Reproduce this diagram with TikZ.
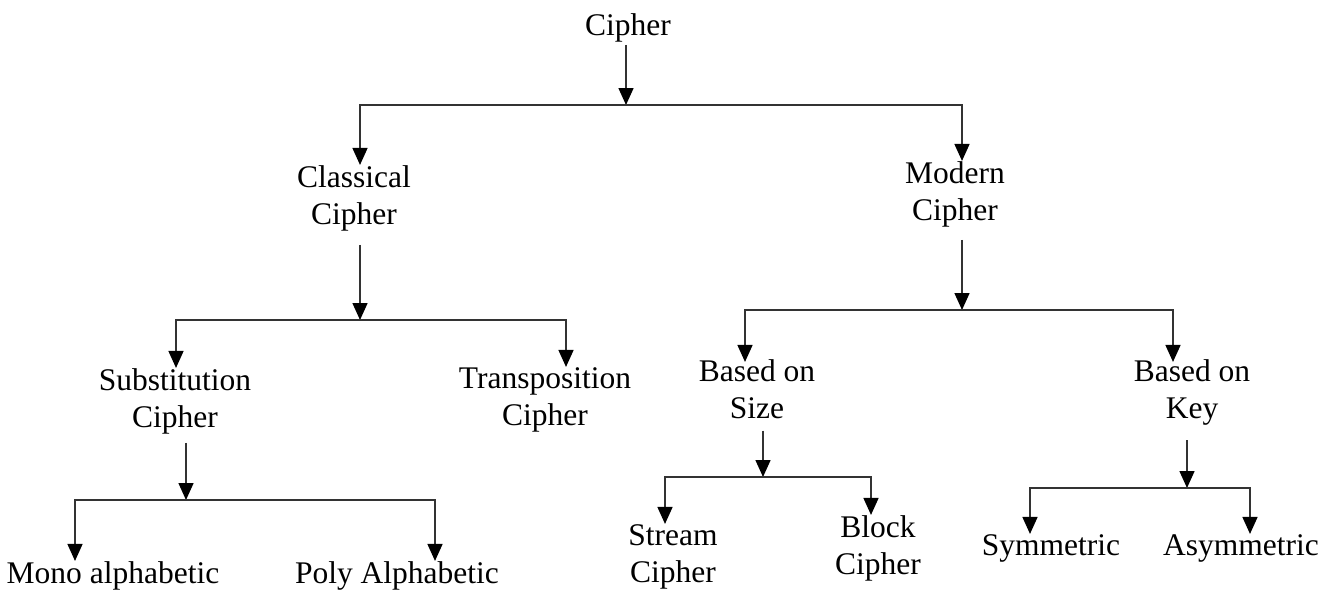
\documentclass[tikz,border=0pt]{standalone}
\usepackage{fontspec}
\setmainfont{Liberation Serif}
\usetikzlibrary{arrows.meta}
\begin{document}
\begin{tikzpicture}[x=1pt,y=-1pt,
  lbl/.style={inner sep=0pt, align=center, anchor=base, font=\fontsize{31.5}{37}\selectfont},
  conn/.style={draw=black!80, line width=1.5pt},
  arr/.style={conn, -{Triangle[width=15pt,length=17pt,color=black]}}]
\clip (0,0) rectangle (1333,589);
\fill[white] (0,0) rectangle (1333,589);
% nodes (anchor = baseline of the last line)
\node[lbl] (cipher) at (628,35) {Cipher};
\node[lbl] (classical) at (354,224) {Classical\\Cipher};
\node[lbl] (modern) at (955,220) {Modern\\Cipher};
\node[lbl] (subst) at (175,427) {Substitution\\Cipher};
\node[lbl] (transp) at (545,425) {Transposition\\Cipher};
\node[lbl] (size) at (757,418) {Based on\\Size};
\node[lbl] (key) at (1192,418) {Based on\\Key};
\node[lbl] (mono) at (113,583) {Mono alphabetic};
\node[lbl] (poly) at (397,583) {Poly Alphabetic};
\node[lbl] (stream) at (673,582) {Stream\\Cipher};
\node[lbl] (block) at (878,574) {Block\\Cipher};
\node[lbl] (sym) at (1051,555) {Symmetric};
\node[lbl] (asym) at (1241,555) {Asymmetric};
% junctions
\coordinate (j1) at (626,105); \coordinate (b1l) at (360,105); \coordinate (b1r) at (962,105);
\coordinate (j2) at (360,320); \coordinate (b2l) at (176,320); \coordinate (b2r) at (566,320);
\coordinate (j3) at (186,500); \coordinate (b3l) at (75,500);  \coordinate (b3r) at (435,500);
\coordinate (j4) at (962,310); \coordinate (b4l) at (745,310); \coordinate (b4r) at (1173,310);
\coordinate (j5) at (763,477); \coordinate (b5l) at (665,477); \coordinate (b5r) at (871,477);
\coordinate (j6) at (1187,488); \coordinate (b6l) at (1030,488); \coordinate (b6r) at (1250,488);
% parent arrows
\draw[arr, shorten <=3pt] (j1 |- cipher.south) -- (j1);
\draw[arr, shorten <=14pt] (j2 |- classical.south) -- (j2);
\draw[arr, shorten <=9pt] (j3 |- subst.south) -- (j3);
\draw[arr, shorten <=13pt] (j4 |- modern.south) -- (j4);
\draw[arr, shorten <=12pt] (j5 |- size.south) -- (j5);
\draw[arr, shorten <=15pt] (j6 |- key.south) -- (j6);
% branches
\draw[arr] (j1) -- (b1l) -- (b1l |- classical.north);
\draw[arr] (j1) -- (b1r) -- (b1r |- modern.north);
\draw[arr] (j2) -- (b2l) -- (b2l |- subst.north);
\draw[arr] (j2) -- (b2r) -- (b2r |- transp.north);
\draw[arr] (j3) -- (b3l) -- (b3l |- mono.north);
\draw[arr] (j3) -- (b3r) -- (b3r |- poly.north);
\draw[arr, shorten >=-3pt] (j4) -- (b4l) -- (b4l |- size.north);
\draw[arr, shorten >=-3pt] (j4) -- (b4r) -- (b4r |- key.north);
\draw[arr] (j5) -- (b5l) -- (b5l |- stream.north);
\draw[arr] (j5) -- (b5r) -- (b5r |- block.north);
\draw[arr] (j6) -- (b6l) -- (b6l |- sym.north);
\draw[arr] (j6) -- (b6r) -- (b6r |- asym.north);
\end{tikzpicture}
\end{document}
